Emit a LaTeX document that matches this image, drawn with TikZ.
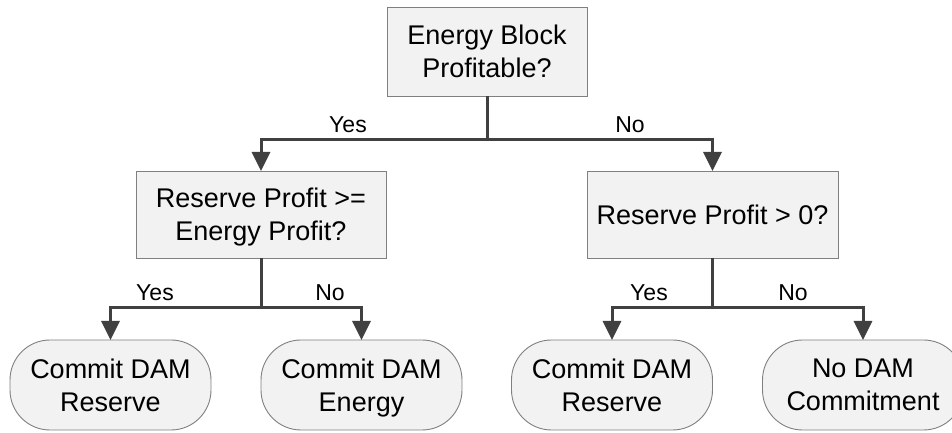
\documentclass[tikz,border=0pt]{standalone}
\usepackage{fontspec}
\setmainfont{Liberation Sans}
\usetikzlibrary{arrows.meta}
\definecolor{edgeGray}{RGB}{64,64,64}
\definecolor{boxFill}{RGB}{242,242,242}
\definecolor{boxLine}{RGB}{128,128,128}
\begin{document}
\begin{tikzpicture}[x = 1pt, y = 1pt]
	\tikzstyle{decisionStyle}=[shape = rectangle, draw = boxLine, fill = boxFill, line width = 0.9pt, inner sep = 0pt, outer sep = 0pt, align = center, text depth = 0pt, font = \fontsize{27}{33}\selectfont]
	\tikzstyle{outcomeStyle}=[decisionStyle, rounded corners = 40pt, minimum width = 201pt, minimum height = 90pt]
	\tikzstyle{EdgeStyle}=[draw = edgeGray, line width = 3pt, -{Triangle[length = 19pt, width = 18pt]}]
	\tikzstyle{labelStyle}=[anchor = base, inner sep = 0pt, font = \fontsize{23}{27}\selectfont]
	\useasboundingbox (0,0) rectangle (952,433);
	\node[decisionStyle, minimum width = 200pt, minimum height = 89pt] (energy) at (487,381.5) {Energy Block\\Profitable?};
	\node[decisionStyle, minimum width = 250pt, minimum height = 87pt] (resVsEn) at (261,218.5) {Reserve Profit >=\\Energy Profit?};
	\node[decisionStyle, minimum width = 251pt, minimum height = 87pt] (resPos) at (712.5,218.5) {Reserve Profit > 0?};
	\node[outcomeStyle] (leafA) at (110.5,48) {Commit DAM\\Reserve};
	\node[outcomeStyle] (leafB) at (361.5,48) {Commit DAM\\Energy};
	\node[outcomeStyle] (leafC) at (612,48) {Commit DAM\\Reserve};
	\node[outcomeStyle] (leafD) at (863,48) {No DAM\\Commitment};
	\draw[EdgeStyle] (energy.south) -- ++(0,-44) -| (resVsEn);
	\draw[EdgeStyle] (energy.south) -- ++(0,-44) -| (resPos);
	\draw[EdgeStyle] (resVsEn.south) -- ++(0,-50) -| (leafA);
	\draw[EdgeStyle] (resVsEn.south) -- ++(0,-50) -| (leafB);
	\draw[EdgeStyle] (resPos.south) -- ++(0,-50) -| (leafC);
	\draw[EdgeStyle] (resPos.south) -- ++(0,-50) -| (leafD);
	\node[labelStyle] (yesTop) at (348,300) {Yes};
	\node[labelStyle] (noTop) at (630,300) {No};
	\node[labelStyle] (yesLeft) at (155,132) {Yes};
	\node[labelStyle] (noLeft) at (330,132) {No};
	\node[labelStyle] (yesRight) at (649,132) {Yes};
	\node[labelStyle] (noRight) at (793,132) {No};
\end{tikzpicture}
\end{document}
